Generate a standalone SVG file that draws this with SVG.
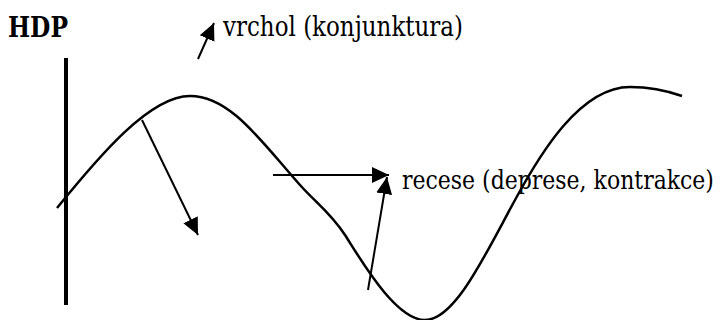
<svg xmlns="http://www.w3.org/2000/svg" width="724" height="320" viewBox="0 0 724 320">
<style>
.t{font-family:"DejaVu Serif",serif;font-size:27px;fill:#000}
.c{fill:none;stroke:#000;stroke-width:2.5}
.a{fill:none;stroke:#000;stroke-width:2}
</style>
<defs>
<marker id="ah" markerUnits="userSpaceOnUse" markerWidth="20" markerHeight="18" refX="17" refY="9" orient="auto">
<path d="M0,1 L17,9 L0,17 Z" fill="#000"/>
</marker>
</defs>
<rect width="724" height="320" fill="#fff"/>
<g id="axis">
<line x1="66" y1="58" x2="66" y2="305" stroke="#000" stroke-width="4"/>
<text class="t" x="8" y="37" font-weight="bold" textLength="60" lengthAdjust="spacingAndGlyphs">HDP</text>
</g>
<g id="curve">
<path class="c" d="M57,208 C100,155 150,96 190,96 C230,96 260,140 300,185 C315,202 330,212 345,235 C360,258 395,320 425,320 C455,320 485,255 515,200 C540,154 580,87 630,87 C650,87 665,90 682,96"/>
</g>
<g id="vrchol">
<text class="t" x="223" y="36" textLength="240" lengthAdjust="spacingAndGlyphs">vrchol (konjunktura)</text>
</g>
<g id="recese">
<text class="t" transform="translate(402,189) scale(1,1.22)" x="0" y="0" style="font-size:22px">recese (deprese, kontrakce)</text>
</g>
<g id="connectors">
<line class="a" x1="198" y1="59" x2="214" y2="23" marker-end="url(#ah)"/>
<line class="a" x1="142" y1="120" x2="198" y2="235" marker-end="url(#ah)"/>
<line class="a" x1="273" y1="175" x2="389" y2="175" marker-end="url(#ah)"/>
<line class="a" x1="368" y1="290" x2="387" y2="177" marker-end="url(#ah)"/>
</g>
</svg>
